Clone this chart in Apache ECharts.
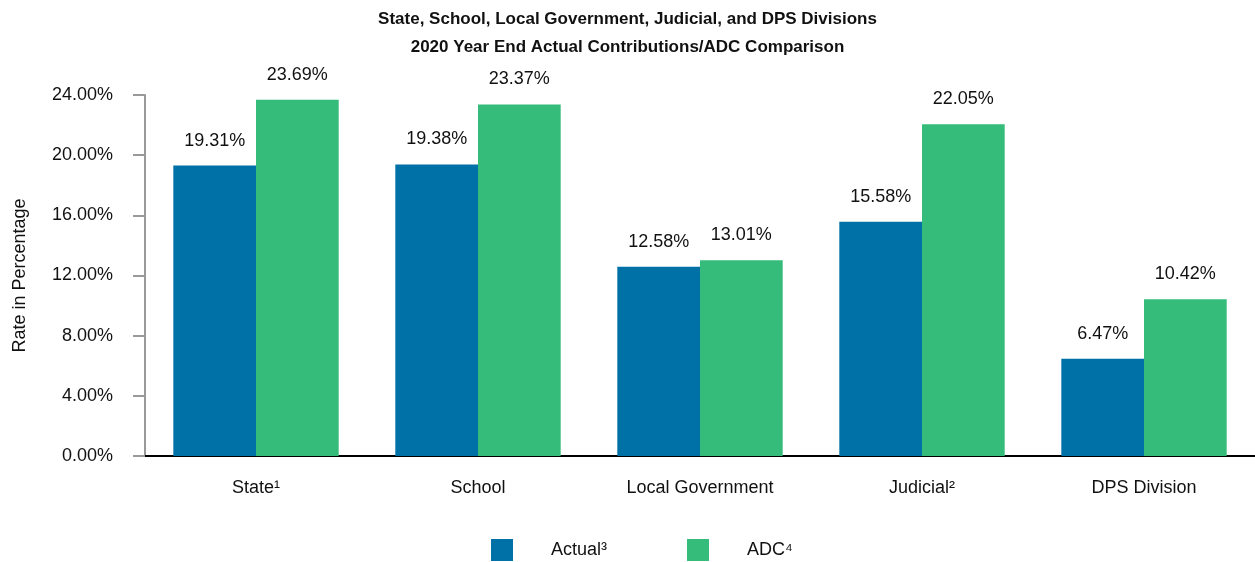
<!DOCTYPE html>
<html>
<head>
<meta charset="utf-8">
<script src="https://cdn.jsdelivr.net/npm/echarts@6/dist/echarts.min.js"></script>
<style>html,body{margin:0;padding:0;background:#fff;}#c{width:1255px;height:562px;}</style>
</head>
<body>
<div id="c"></div>
<script>
const categories = ['State\u00b9', 'School', 'Local Government', 'Judicial\u00b2', 'DPS Division'];
const actualValues = [19.31, 19.38, 12.58, 15.58, 6.47];
const adcValues = [23.69, 23.37, 13.01, 22.05, 10.42];
const seriesNames = ['Actual\u00b3', 'ADC\u2074'];
const titleLines = ['State, School, Local Government, Judicial, and DPS Divisions', '2020 Year End Actual Contributions/ADC Comparison'];
const yAxisName = 'Rate in Percentage';

const FONT = '"Liberation Sans Narrow", "Arial Narrow", "Liberation Sans", Arial, sans-serif';
const chart = echarts.init(document.getElementById('c'));
const labelCfg = {
  show: true, position: 'top', distance: 16, color: '#111', fontSize: 18, fontFamily: FONT,
  formatter: p => p.value.toFixed(2) + '%'
};
chart.setOption({
  animation: false,
  backgroundColor: '#fff',
  title: {
    text: titleLines.join('\n'), left: 'center', top: 0,
    textStyle: { fontFamily: FONT, fontWeight: 'bold', fontSize: 17, color: '#111', lineHeight: 28 }
  },
  legend: {
    bottom: -4, left: 486, itemWidth: 22, itemHeight: 22, itemGap: 80,
    icon: 'rect',
    textStyle: { fontFamily: FONT, fontSize: 18, color: '#111', padding: [0, 0, 0, 33] },
    data: seriesNames
  },
  grid: { left: 145, top: 95, width: 1116, height: 361 },
  xAxis: {
    type: 'category', data: categories,
    axisLine: { lineStyle: { color: '#000', width: 2 } },
    axisTick: { show: false },
    axisLabel: { color: '#111', fontSize: 18, fontFamily: FONT, margin: 23 }
  },
  yAxis: {
    type: 'value', min: 0, max: 24, interval: 4,
    name: yAxisName, nameLocation: 'middle', nameGap: 116, nameRotate: 90,
    nameTextStyle: { color: '#111', fontSize: 18, fontFamily: FONT },
    axisLine: { show: true, lineStyle: { color: '#999', width: 2 } },
    axisTick: { show: true, length: 12, lineStyle: { color: '#999', width: 2 } },
    splitLine: { show: false },
    axisLabel: { color: '#111', fontSize: 18, fontFamily: FONT, margin: 32, formatter: v => v.toFixed(2) + '%' }
  },
  series: [
    { name: seriesNames[0], type: 'bar', data: actualValues, barGap: '0%', barCategoryGap: '25.5%',
      itemStyle: { color: '#0071A7' }, label: labelCfg },
    { name: seriesNames[1], type: 'bar', data: adcValues, barGap: '0%', barCategoryGap: '25.5%',
      itemStyle: { color: '#35BC7A' }, label: labelCfg }
  ]
});
</script>
</body>
</html>
